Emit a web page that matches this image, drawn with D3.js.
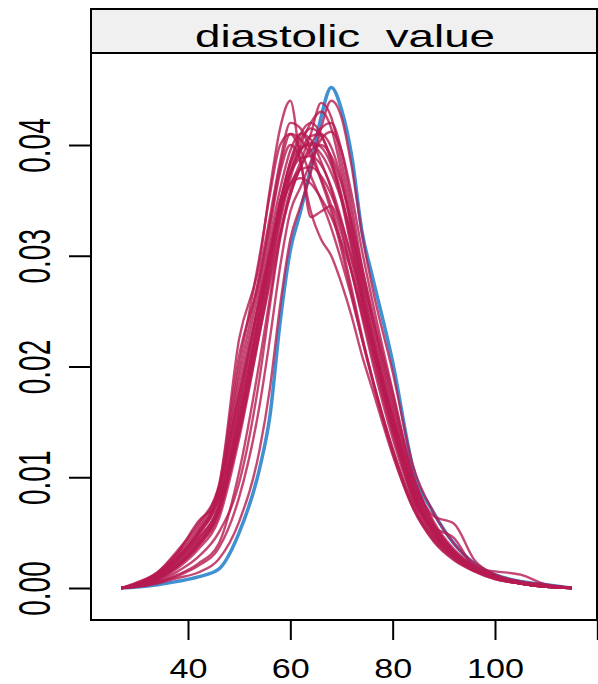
<!DOCTYPE html>
<html>
<head>
<meta charset="utf-8">
<script src="https://cdn.jsdelivr.net/npm/d3@7"></script>
<style>
  html, body { margin: 0; padding: 0; background: #fff; }
  svg { display: block; font-family: "Liberation Sans", Arial, sans-serif; }
</style>
</head>
<body>
<svg id="chart" width="598" height="684"></svg>
<script>
const grid = [27, 30, 34, 38, 42, 46, 50, 54, 56, 58, 60, 62, 64, 66, 68, 70, 72, 74, 76, 80, 84, 88, 92, 96, 100, 105, 110, 115];

// observed data density (blue)
const observed = [0, .0001, .0003, .0006, .0010, .0017, .0050, .0108, .0155, .0240, .0305, .0340, .0380, .0425, .0452, .0432, .0390, .0322, .0282, .0204, .0108, .0068, .0040, .0022, .0012, .0006, .0003, 0];

// imputed data densities (red), one row per imputation
const imputed = [
    [0, .0005, .0014, .0034, .0058, .0092, .0225, .0295, .0360, .0415, .0440, .0385, .0340, .0315, .0300, .0275, .0245, .0210, .0180, .0120, .0072, .0042, .0025, .0015, .0008, .0004, .0001, 0],
    [0, .0003, .0012, .0028, .0050, .0085, .0190, .0285, .0335, .0385, .0420, .0415, .0395, .0370, .0345, .0310, .0270, .0228, .0190, .0125, .0075, .0045, .0028, .0016, .0009, .0004, .0001, 0],
    [0, .0003, .0010, .0025, .0045, .0075, .0165, .0265, .0315, .0360, .0395, .0410, .0405, .0385, .0360, .0325, .0285, .0245, .0205, .0135, .0080, .0048, .0030, .0017, .0009, .0004, .0001, 0],
    [0, .0004, .0012, .0032, .0060, .0080, .0150, .0245, .0295, .0345, .0385, .0410, .0420, .0410, .0385, .0350, .0305, .0260, .0220, .0145, .0085, .0050, .0030, .0017, .0009, .0004, .0001, 0],
    [0, .0002, .0008, .0020, .0038, .0068, .0140, .0235, .0285, .0335, .0375, .0400, .0420, .0430, .0415, .0375, .0325, .0275, .0232, .0155, .0090, .0052, .0031, .0018, .0010, .0005, .0002, 0],
    [0, .0002, .0008, .0020, .0040, .0070, .0140, .0230, .0275, .0320, .0355, .0380, .0395, .0400, .0390, .0365, .0330, .0290, .0250, .0175, .0100, .0065, .0058, .0025, .0012, .0005, .0002, 0],
    [0, .0004, .0014, .0032, .0055, .0090, .0175, .0260, .0300, .0340, .0365, .0378, .0380, .0372, .0355, .0330, .0298, .0262, .0225, .0155, .0095, .0057, .0033, .0019, .0010, .0005, .0002, 0],
    [0, .0003, .0011, .0027, .0048, .0082, .0180, .0275, .0325, .0375, .0400, .0385, .0335, .0340, .0345, .0320, .0285, .0248, .0210, .0140, .0082, .0048, .0028, .0016, .0009, .0004, .0001, 0],
    [0, .0001, .0004, .0009, .0014, .0026, .0060, .0125, .0180, .0255, .0315, .0345, .0375, .0415, .0440, .0425, .0380, .0320, .0272, .0195, .0110, .0068, .0040, .0022, .0012, .0006, .0003, 0],
    [0, .0002, .0006, .0015, .0028, .0050, .0095, .0190, .0255, .0315, .0355, .0380, .0400, .0415, .0420, .0395, .0345, .0290, .0245, .0165, .0095, .0056, .0033, .0019, .0010, .0005, .0002, 0],
    [0, .0003, .0010, .0024, .0044, .0075, .0160, .0255, .0305, .0350, .0375, .0388, .0390, .0382, .0362, .0332, .0295, .0255, .0215, .0142, .0085, .0050, .0030, .0018, .0015, .0012, .0003, 0],
    [0, .0004, .0013, .0030, .0052, .0090, .0210, .0280, .0330, .0380, .0410, .0405, .0390, .0368, .0340, .0305, .0265, .0225, .0188, .0122, .0072, .0043, .0026, .0015, .0008, .0004, .0001, 0],
    [0, .0002, .0007, .0018, .0035, .0062, .0135, .0230, .0280, .0330, .0370, .0395, .0408, .0410, .0398, .0368, .0322, .0272, .0228, .0152, .0088, .0051, .0030, .0017, .0009, .0004, .0002, 0],
    [0, .0003, .0009, .0022, .0042, .0072, .0155, .0250, .0300, .0348, .0382, .0398, .0400, .0392, .0375, .0350, .0318, .0282, .0245, .0170, .0100, .0058, .0033, .0018, .0010, .0005, .0002, 0],
    [0, .0001, .0005, .0011, .0020, .0036, .0082, .0165, .0225, .0290, .0340, .0362, .0385, .0405, .0412, .0395, .0355, .0305, .0260, .0178, .0102, .0060, .0035, .0020, .0011, .0005, .0002, 0],
    [0, .0004, .0012, .0028, .0050, .0088, .0200, .0300, .0355, .0400, .0410, .0395, .0372, .0350, .0325, .0295, .0262, .0225, .0190, .0126, .0075, .0045, .0027, .0016, .0009, .0004, .0001, 0],
    [0, .0003, .0009, .0022, .0040, .0070, .0150, .0248, .0298, .0348, .0385, .0405, .0415, .0408, .0388, .0355, .0312, .0265, .0222, .0148, .0086, .0050, .0029, .0017, .0009, .0004, .0001, 0],
    [0, .0003, .0011, .0026, .0048, .0082, .0170, .0262, .0305, .0345, .0365, .0370, .0365, .0352, .0335, .0312, .0285, .0252, .0218, .0150, .0090, .0053, .0031, .0018, .0010, .0005, .0002, 0],
    [0, .0002, .0008, .0020, .0038, .0066, .0145, .0240, .0290, .0338, .0375, .0395, .0402, .0398, .0382, .0352, .0310, .0265, .0222, .0148, .0080, .0055, .0045, .0018, .0010, .0005, .0002, 0],
    [0, .0002, .0005, .0012, .0022, .0040, .0105, .0205, .0262, .0318, .0360, .0385, .0410, .0438, .0425, .0385, .0335, .0282, .0238, .0160, .0092, .0054, .0032, .0018, .0010, .0005, .0002, 0]
];

const xTicks = [40, 60, 80, 100, 120];
const yTicks = [0, 0.01, 0.02, 0.03, 0.04];
const STRIP_TITLE = 'diastolic  value';

const PANEL = { left: 91, right: 597, top: 9, strip: 53, bottom: 620 };
const OBS_COLOR = '#006CC2';
const IMP_COLOR = '#B61A51';

const svg = d3.select('#chart');

const x = d3.scaleLinear().domain([40, 100]).range([188, 495]);
const y = d3.scaleLinear().domain([0, 0.04]).range([588, 145]);

const line = d3
    .line()
    .x((d, i) => x(grid[i]))
    .y((d) => y(d))
    .curve(d3.curveMonotoneX);

function drawCurves() {
    const g = svg.append('g').attr('fill', 'none').attr('stroke-linejoin', 'round');

    g.append('path')
        .attr('d', line(observed))
        .attr('stroke', OBS_COLOR)
        .attr('stroke-opacity', 0.75)
        .attr('stroke-width', 3.5);

    g.selectAll('path.imp')
        .data(imputed)
        .join('path')
        .attr('class', 'imp')
        .attr('d', line)
        .attr('stroke', IMP_COLOR)
        .attr('stroke-opacity', 0.8)
        .attr('stroke-width', 2.4);
}

function drawFrame() {
    // strip header
    svg.append('rect')
        .attr('x', PANEL.left)
        .attr('y', PANEL.top)
        .attr('width', PANEL.right - PANEL.left)
        .attr('height', PANEL.strip - PANEL.top)
        .attr('fill', '#f0f0f0')
        .attr('stroke', '#000')
        .attr('stroke-width', 2);

    svg.append('text')
        .attr('x', 195)
        .attr('y', 46.5)
        .attr('font-size', 32)
        .attr('textLength', 300)
        .attr('lengthAdjust', 'spacingAndGlyphs')
        .style('white-space', 'pre')
        .attr('fill', '#000')
        .text(STRIP_TITLE);

    // panel box
    svg.append('rect')
        .attr('x', PANEL.left)
        .attr('y', PANEL.top)
        .attr('width', PANEL.right - PANEL.left)
        .attr('height', PANEL.bottom - PANEL.top)
        .attr('fill', 'none')
        .attr('stroke', '#000')
        .attr('stroke-width', 2);
}

function drawAxes() {
    const xAxis = svg.append('g')
        .attr('transform', `translate(0,${PANEL.bottom})`)
        .call(
            d3.axisBottom(x)
                .tickValues(xTicks)
                .tickSize(20)
                .tickFormat((d) => (d === 120 ? '' : d))
        );
    xAxis.select('.domain').remove();
    xAxis.selectAll('.tick line').attr('stroke', '#000').attr('stroke-width', 2);
    xAxis.selectAll('.tick text')
        .attr('y', 58)
        .attr('dy', null)
        .attr('fill', '#000')
        .attr('font-size', 28)
        .attr('font-family', '"Liberation Sans", Arial, sans-serif')
        .attr('transform', 'scale(1.22,1)');

    const yAxis = svg.append('g')
        .attr('transform', `translate(${PANEL.left},0)`)
        .call(
            d3.axisLeft(y)
                .tickValues(yTicks)
                .tickSize(22)
                .tickFormat(d3.format('.2f'))
        );
    yAxis.select('.domain').remove();
    yAxis.selectAll('.tick line').attr('stroke', '#000').attr('stroke-width', 2);
    yAxis.selectAll('.tick text')
        .attr('x', 0)
        .attr('y', 0)
        .attr('dy', null)
        .attr('fill', '#000')
        .attr('text-anchor', 'middle')
        .attr('font-size', 28)
        .attr('font-family', '"Liberation Sans", Arial, sans-serif')
        .attr('transform', 'translate(-41,0) scale(1.6,1) rotate(-90)');
}

drawCurves();
drawFrame();
drawAxes();
</script>
</body>
</html>
